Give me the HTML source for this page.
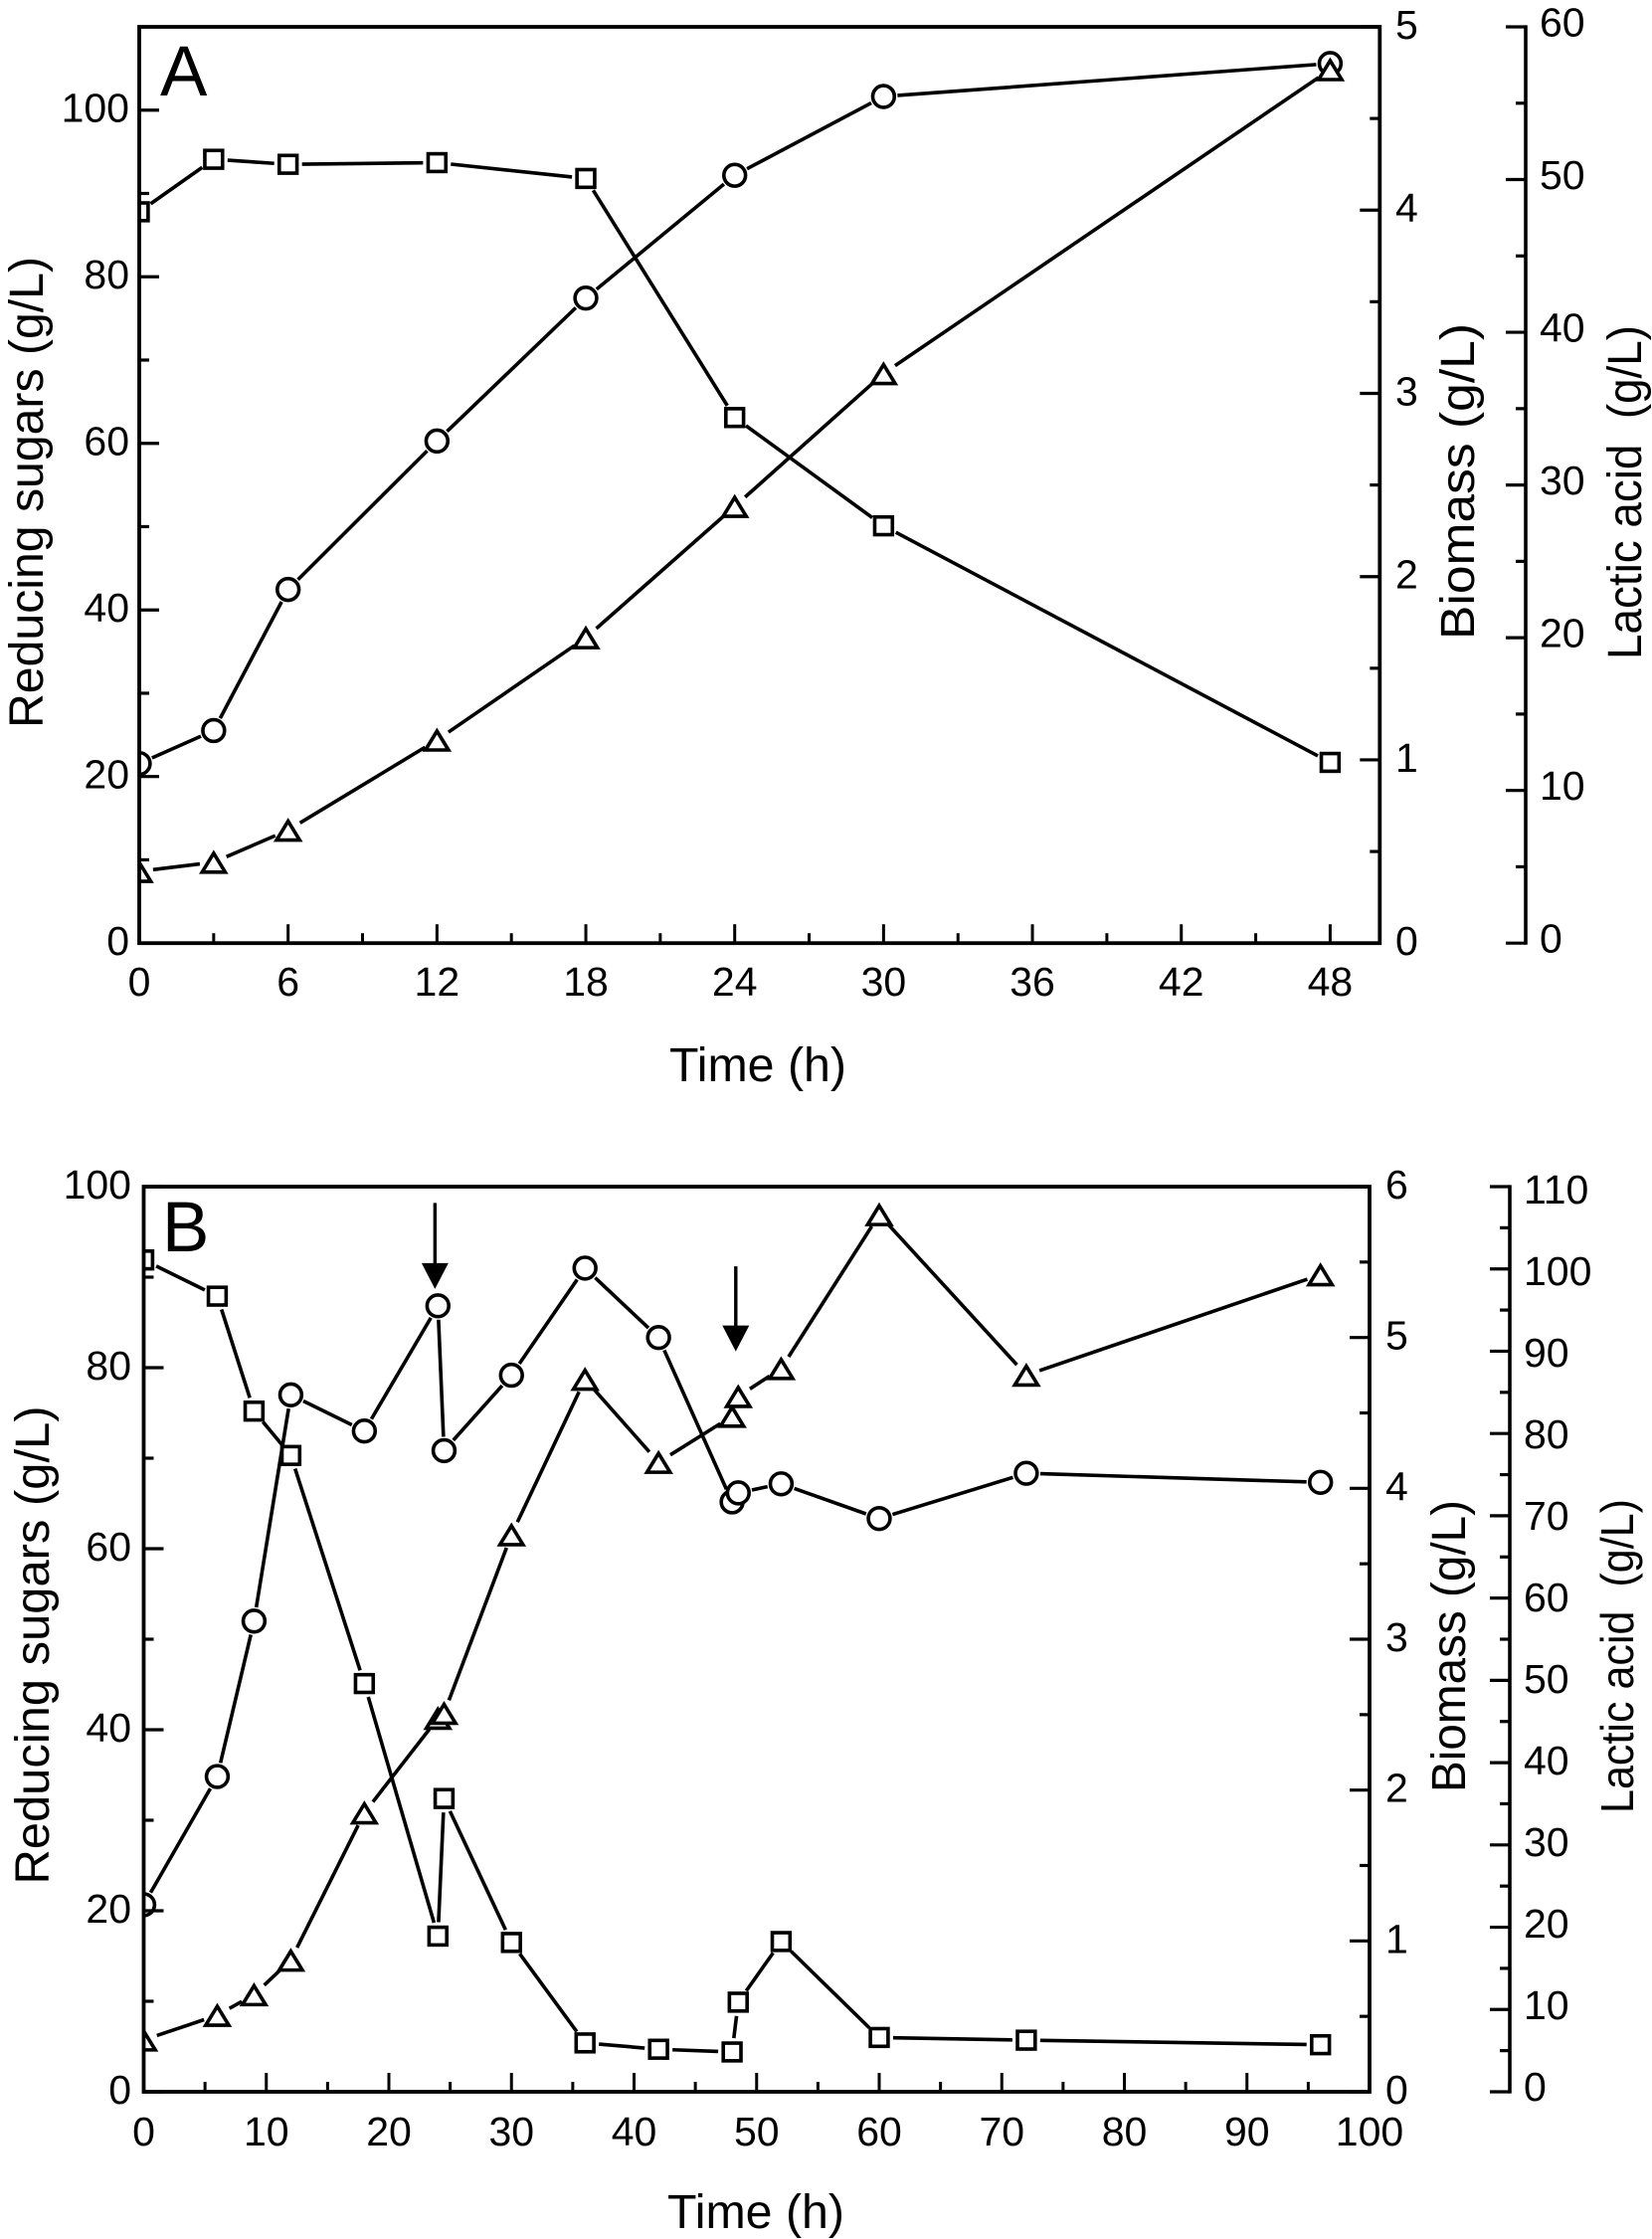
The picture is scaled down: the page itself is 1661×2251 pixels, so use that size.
<!DOCTYPE html>
<html lang="en">
<head>
<meta charset="utf-8">
<title>Reducing sugars, biomass and lactic acid over time</title>
<style>
  html, body { margin: 0; padding: 0; background: #fff; }
  svg { display: block; }
  text { font-family: "Liberation Sans", Arial, sans-serif; fill: #000; }
  .tick { font-size: 41px; }
  .title { font-size: 48px; }
  .title-small { font-size: 46px; }
  .letter { font-size: 71px; }
</style>
</head>
<body>
<svg id="chart" xmlns="http://www.w3.org/2000/svg" width="1661" height="2251" viewBox="0 0 1661 2251">
  <defs>
    <clipPath id="clip-a"><rect x="140" y="0" width="1300" height="1000"/></clipPath>
    <clipPath id="clip-b"><rect x="144.5" y="1150" width="1300" height="1000"/></clipPath>
  </defs>
  <rect x="0" y="0" width="1661" height="2251" fill="#fff"/>

  <g id="panel-a">
    <text class="letter" x="161" y="96">A</text>
    <text class="title" x="762" y="1087" text-anchor="middle" textLength="178" lengthAdjust="spacingAndGlyphs">Time (h)</text>
    <text class="title" text-anchor="middle" transform="translate(43 495) rotate(-90)" textLength="474" lengthAdjust="spacingAndGlyphs">Reducing sugars (g/L)</text>
    <text class="title" text-anchor="middle" transform="translate(1482 484) rotate(-90)" textLength="318" lengthAdjust="spacingAndGlyphs">Biomass (g/L)</text>
    <text class="title" text-anchor="middle" transform="translate(1650 495) rotate(-90)" textLength="336" lengthAdjust="spacingAndGlyphs" xml:space="preserve">Lactic acid  (g/L)</text>
  </g>

  <g id="panel-b">
    <text class="letter" x="163" y="1258">B</text>
    <text class="title" x="760" y="2240" text-anchor="middle" textLength="178" lengthAdjust="spacingAndGlyphs">Time (h)</text>
    <text class="title" text-anchor="middle" transform="translate(49 1654) rotate(-90)" textLength="481" lengthAdjust="spacingAndGlyphs">Reducing sugars (g/L)</text>
    <text class="title" text-anchor="middle" transform="translate(1473 1655) rotate(-90)" textLength="294" lengthAdjust="spacingAndGlyphs">Biomass (g/L)</text>
    <text class="title-small" text-anchor="middle" transform="translate(1642 1665) rotate(-90)" textLength="316" lengthAdjust="spacingAndGlyphs" xml:space="preserve">Lactic acid  (g/L)</text>
  </g>
</svg>

<script>
// ---------- Panel A data ----------
const timeA = [0, 3, 6, 12, 18, 24, 30, 48];
const sugarsA = [87.8, 94.1, 93.5, 93.7, 91.8, 63.1, 50.1, 21.7];
const biomassA = [0.98, 1.16, 1.93, 2.74, 3.52, 4.19, 4.62, 4.80];
const lacticA = [4.7, 5.3, 7.4, 13.3, 20.0, 28.6, 37.3, 57.2];

// ---------- Panel B data ----------
const timeB = [0, 6, 9, 12, 18, 24, 24.5, 30, 36, 42, 48, 48.5, 52, 60, 72, 96];
const sugarsB = [91.9, 87.9, 75.2, 70.3, 45.1, 17.2, 32.4, 16.5, 5.4, 4.7, 4.4, 9.9, 16.6, 6.0, 5.7, 5.2];
const biomassB = [1.24, 2.09, 3.12, 4.62, 4.38, 5.21, 4.25, 4.75, 5.46, 5.00, 3.91, 3.97, 4.03, 3.80, 4.10, 4.04];
const timeLacticB = [0, 6, 9, 12, 18, 24, 24.5, 30, 36, 42, 48, 48.5, 52, 60, 72, 96];
const lacticB = [6.3, 9.3, 11.8, 16.0, 33.9, 45.4, 46.0, 67.7, 86.6, 76.5, 82.1, 84.5, 87.9, 106.6, 87.1, 99.3];

// ---------- Tick values ----------
const xMajorA = [0, 6, 12, 18, 24, 30, 36, 42, 48];
const xMinorA = [3, 9, 15, 21, 27, 33, 39, 45];
const sugarsMajorA = [0, 20, 40, 60, 80, 100];
const sugarsMinorA = [10, 30, 50, 70, 90];
const biomassMajorA = [0, 1, 2, 3, 4, 5];
const biomassMinorA = [0.5, 1.5, 2.5, 3.5, 4.5];
const lacticMajorA = [0, 10, 20, 30, 40, 50, 60];
const lacticMinorA = [5, 15, 25, 35, 45, 55];

const xMajorB = [0, 10, 20, 30, 40, 50, 60, 70, 80, 90, 100];
const xMinorB = [5, 15, 25, 35, 45, 55, 65, 75, 85, 95];
const sugarsMajorB = [0, 20, 40, 60, 80, 100];
const sugarsMinorB = [10, 30, 50, 70, 90];
const biomassMajorB = [0, 1, 2, 3, 4, 5, 6];
const biomassMinorB = [0.5, 1.5, 2.5, 3.5, 4.5, 5.5];
const lacticMajorB = [0, 10, 20, 30, 40, 50, 60, 70, 80, 90, 100, 110];
const lacticMinorB = [5, 15, 25, 35, 45, 55, 65, 75, 85, 95, 105];

// ---------- Feeding arrows in panel B (time, tail and tip on the sugars scale) ----------
const arrowTimes = [23.76, 48.3];
const arrowTails = [98.2, 91.2];
const arrowTips = [88.7, 81.8];

// ---------- Helpers ----------
const SVG_NS = 'http://www.w3.org/2000/svg';
const STROKE = 3.6;
const GAP = 14;

function mk(tag, attrs, parent) {
  const el = document.createElementNS(SVG_NS, tag);
  for (const k in attrs) el.setAttribute(k, attrs[k]);
  parent.appendChild(el);
  return el;
}
function linear(d0, d1, r0, r1) {
  return function (v) { return r0 + (v - d0) * (r1 - r0) / (d1 - d0); };
}

function drawSeries(layer, clipId, xs, ys, x, y, kind) {
  const lines = mk('g', {}, layer);
  
  
  for (let i = 0; i + 1 < xs.length; i++) {
    const x1 = x(xs[i]), y1 = y(ys[i]), x2 = x(xs[i + 1]), y2 = y(ys[i + 1]);
    const d = Math.hypot(x2 - x1, y2 - y1);
    if (d <= 2 * GAP) continue;
    const ux = (x2 - x1) / d, uy = (y2 - y1) / d;
    const seg = mk('line', {
      x1: x1 + ux * GAP, y1: y1 + uy * GAP, x2: x2 - ux * GAP, y2: y2 - uy * GAP,
      stroke: '#000', 'stroke-width': STROKE
    }, lines);
    
    
  }
  const marks = mk('g', { 'clip-path': 'url(#' + clipId + ')' }, layer);
  
  
  for (let i = 0; i < xs.length; i++) {
    const cx = x(xs[i]), cy = y(ys[i]);
    let m;
    const style = { fill: '#fff', stroke: '#000', 'stroke-width': STROKE };
    if (kind === 'sugars') {
      m = mk('rect', Object.assign({ x: cx - 8.9, y: cy - 8.9, width: 17.8, height: 17.8 }, style), marks);
    } else if (kind === 'biomass') {
      m = mk('circle', Object.assign({ cx: cx, cy: cy, r: 10.9 }, style), marks);
    } else {
      m = mk('polygon', Object.assign({
        points: cx + ',' + (cy - 9) + ' ' + (cx + 11.6) + ',' + (cy + 10) + ' ' + (cx - 11.6) + ',' + (cy + 10)
      }, style), marks);
    }
    
    
  }
}

function drawVerticalAxis(layer, axisX, dir, scale, majors, minors, labelX, anchor, baselineOf, drawLine, top, bottom) {
  if (drawLine) {
    const ln = mk('line', { x1: axisX, y1: top - 1.6, x2: axisX, y2: bottom + 1.6, stroke: '#000', 'stroke-width': 3.6 }, layer);
    
    
  }
  majors.forEach(function (v) {
    const t = mk('line', { x1: axisX, x2: axisX + dir * 20, y1: scale(v), y2: scale(v), stroke: '#000', 'stroke-width': 3.2 }, layer);
    
    
    const lab = mk('text', { class: 'tick', x: labelX, y: baselineOf(v), 'text-anchor': anchor }, layer);
    lab.textContent = String(v);
    
    
  });
  minors.forEach(function (v) {
    const t = mk('line', { x1: axisX, x2: axisX + dir * 10, y1: scale(v), y2: scale(v), stroke: '#000', 'stroke-width': 3.2 }, layer);
    
    
  });
}

function drawBottomAxis(layer, x, majors, minors, bottom, labelY) {
  majors.forEach(function (v) {
    const t = mk('line', { x1: x(v), x2: x(v), y1: bottom, y2: bottom - 19, stroke: '#000', 'stroke-width': 3 }, layer);
    
    
    const lab = mk('text', { class: 'tick', x: x(v), y: labelY, 'text-anchor': 'middle' }, layer);
    lab.textContent = String(v);
    
    
  });
  minors.forEach(function (v) {
    const t = mk('line', { x1: x(v), x2: x(v), y1: bottom, y2: bottom - 10, stroke: '#000', 'stroke-width': 3 }, layer);
    
    
  });
}

function drawFrame(layer, left, right, top, bottom) {
  const f = mk('rect', { x: left, y: top, width: right - left, height: bottom - top, fill: 'none', stroke: '#000', 'stroke-width': 3.8 }, layer);
  
  
}

// ---------- Panel A ----------
(function () {
  const g = document.getElementById('panel-a');
  const L = 140, R = 1387.3, T = 27, B = 948.2, AX3 = 1534;
  const x = linear(0, 50, L, R);
  const yS = linear(0, 110, B, T);
  const yM = linear(0, 5, B, T);
  const yL = linear(0, 60, B, T);

  drawSeries(g, 'clip-a', timeA, sugarsA, x, yS, 'sugars');
  drawSeries(g, 'clip-a', timeA, biomassA, x, yM, 'biomass');
  drawSeries(g, 'clip-a', timeA, lacticA, x, yL, 'lactic');

  drawFrame(g, L, R, T, B);
  drawBottomAxis(g, x, xMajorA, xMinorA, B, 1001);
  drawVerticalAxis(g, L, 1, yS, sugarsMajorA, sugarsMinorA, 130, 'end', function (v) { return yS(v) + 12; }, false);
  drawVerticalAxis(g, R, -1, yM, biomassMajorA, biomassMinorA, 1403, 'start', function (v) { return yM(v) + 12; }, false);
  drawVerticalAxis(g, AX3, -1, yL, lacticMajorA, lacticMinorA, 1548, 'start', function (v) { return yL(v) + 9.5; }, true, T, B);
})();

// ---------- Panel B ----------
(function () {
  const g = document.getElementById('panel-b');
  const L = 144.5, R = 1377, T = 1193, B = 2103, AX3 = 1518;
  const x = linear(0, 100, L, R);
  const yS = linear(0, 100, B, T);
  const yM = linear(0, 6, B, T);
  const yL = linear(0, 110, B, T);

  drawSeries(g, 'clip-b', timeB, sugarsB, x, yS, 'sugars');
  drawSeries(g, 'clip-b', timeB, biomassB, x, yM, 'biomass');
  drawSeries(g, 'clip-b', timeLacticB, lacticB, x, yL, 'lactic');

  arrowTimes.forEach(function (t, i) {
    const ax = x(t), tail = yS(arrowTails[i]), tip = yS(arrowTips[i]);
    const shaft = mk('line', { x1: ax, x2: ax, y1: tail, y2: tip - 10, stroke: '#000', 'stroke-width': 3.4 }, g);
    
    
    const head = mk('polygon', { points: (ax - 13.5) + ',' + (tip - 26) + ' ' + (ax + 13.5) + ',' + (tip - 26) + ' ' + ax + ',' + tip, fill: '#000' }, g);
    
    
  });

  drawFrame(g, L, R, T, B);
  drawBottomAxis(g, x, xMajorB, xMinorB, B, 2157);
  drawVerticalAxis(g, L, 1, yS, sugarsMajorB, sugarsMinorB, 132, 'end', function (v) { return yS(v) + 12; }, false);
  drawVerticalAxis(g, R, -1, yM, biomassMajorB, biomassMinorB, 1393, 'start', function (v) { return yM(v) + 12; }, false);
  drawVerticalAxis(g, AX3, -1, yL, lacticMajorB, lacticMinorB, 1532, 'start', function (v) { return yL(v) + 9 + v * 8 / 110; }, true, T, B);
})();
</script>
</body>
</html>
